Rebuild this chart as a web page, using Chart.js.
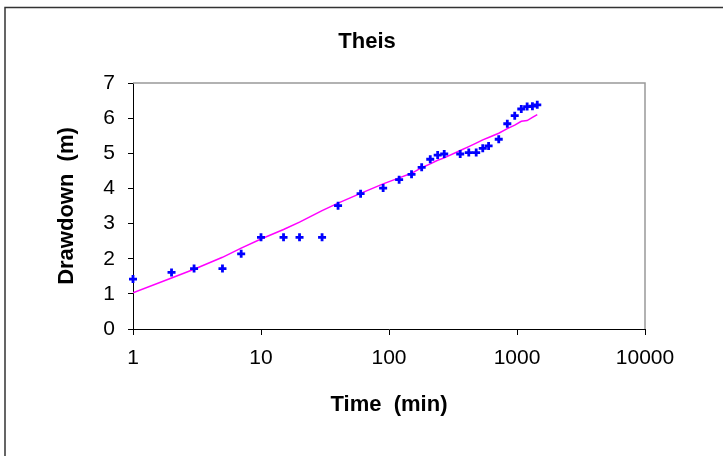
<!DOCTYPE html>
<html>
<head>
<meta charset="utf-8">
<script src="https://cdn.jsdelivr.net/npm/chart.js@4.4.1/dist/chart.umd.min.js"></script>
<style>
  html, body { margin: 0; padding: 0; background: #fff; }
  #wrap { width: 723px; height: 456px; }
</style>
</head>
<body>
<div id="wrap"><canvas id="theisChart" width="723" height="456"></canvas></div>
<script>
// Pumping test: elapsed time (min) and measured drawdown (m)
const times = [1, 2, 3, 5, 7, 10, 15, 20, 30, 40, 60, 90, 120, 150, 180, 210, 240, 270,
               360, 420, 480, 540, 600, 720, 840, 960, 1080, 1200, 1320, 1440];
const observed = [1.42, 1.61, 1.72, 1.72, 2.14, 2.61, 2.61, 2.61, 2.61, 3.51, 3.85, 4.01,
                  4.25, 4.40, 4.60, 4.83, 4.95, 4.98, 4.98, 5.02, 5.02, 5.14, 5.21, 5.40,
                  5.84, 6.07, 6.26, 6.33, 6.34, 6.38];
// Theis type curve fitted at the same times
const theisFit = [1.03, 1.45, 1.70, 2.04, 2.30, 2.56, 2.83, 3.04, 3.37, 3.58, 3.86, 4.13,
                  4.30, 4.43, 4.59, 4.70, 4.80, 4.87, 5.08, 5.19, 5.29, 5.38, 5.45, 5.57,
                  5.70, 5.80, 5.91, 5.93, 6.02, 6.10];
const xTicks = [1, 10, 100, 1000, 10000];
const xTickLabels = ['1', '10', '100', '1000', '10000'];

const FONT = "'Liberation Sans', Arial, sans-serif";

// white background, outer frame and the grey top/right edges of the plot
const framePlugin = {
    id: 'frame',
    beforeDraw(chart) {
        const ctx = chart.ctx;
        ctx.save();
        ctx.fillStyle = '#fff';
        ctx.fillRect(0, 0, chart.width, chart.height);
        ctx.strokeStyle = '#333';
        ctx.lineWidth = 1.5;
        ctx.strokeRect(5, 7.5, chart.width + 20, chart.height + 20);
        ctx.restore();
    },
    beforeDatasetsDraw(chart) {
        const a = chart.chartArea;
        const ctx = chart.ctx;
        ctx.save();
        ctx.strokeStyle = '#999';
        ctx.lineWidth = 1.5;
        ctx.beginPath();
        ctx.moveTo(a.left, a.top);
        ctx.lineTo(a.right, a.top);
        ctx.lineTo(a.right, a.bottom);
        ctx.stroke();
        ctx.restore();
    }
};

const chartData = {
    datasets: [{
        label: 'Observed',
        type: 'scatter',
        data: times.map((t, i) => ({ x: t, y: observed[i] })),
        pointStyle: 'cross',
        pointRadius: 4,
        pointBorderWidth: 2.8,
        borderColor: '#0000ff',
        backgroundColor: '#0000ff',
        clip: false
    }, {
        label: 'Theis',
        type: 'line',
        data: times.map((t, i) => ({ x: t, y: theisFit[i] })),
        borderColor: '#ff00ff',
        borderWidth: 1.5,
        pointRadius: 0,
        tension: 0,
        fill: false
    }]
};

const chartOptions = {
    responsive: false,
    animation: false,
    layout: { padding: { left: 11, right: 0, top: 0, bottom: 0 } },
    plugins: {
        legend: { display: false },
        tooltip: { enabled: false },
        title: {
            display: true,
            text: 'Theis',
            color: '#000',
            font: { family: FONT, size: 22, weight: 'bold' },
            padding: { top: 29, bottom: 27.6 }
        }
    },
    scales: {
        x: {
            type: 'logarithmic',
            min: 1,
            max: 10000,
            afterBuildTicks: s => { s.ticks = xTicks.map(v => ({ value: v })); },
            afterFit: s => { s.height = 127; },
            ticks: {
                color: '#000',
                font: { family: FONT, size: 21 },
                padding: 11,
                maxRotation: 0,
                autoSkip: false,
                callback: v => xTickLabels[xTicks.indexOf(v)] ?? ''
            },
            grid: { drawOnChartArea: false, drawTicks: true, tickLength: 6, color: '#000' },
            border: { display: true, color: '#000', width: 1 },
            title: {
                display: true,
                text: 'Time  (min)',
                color: '#000',
                font: { family: FONT, size: 22, weight: 'bold' },
                padding: { top: 0, bottom: 38 }
            }
        },
        y: {
            type: 'linear',
            min: 0,
            max: 7,
            afterFit: s => { s.width = 122; },
            ticks: {
                stepSize: 1,
                color: '#000',
                font: { family: FONT, size: 21 },
                padding: 13
            },
            grid: { drawOnChartArea: false, drawTicks: true, tickLength: 5, color: '#000' },
            border: { display: true, color: '#000', width: 1 },
            title: {
                display: true,
                text: 'Drawdown  (m)',
                color: '#000',
                font: { family: FONT, size: 22, weight: 'bold' },
                padding: { top: 42.8, bottom: 0 }
            }
        },
        // blank strip on the right so the title centres on the whole frame
        y2: {
            type: 'linear',
            position: 'right',
            afterFit: s => { s.width = 78; },
            ticks: { display: false },
            grid: { display: false },
            border: { display: false }
        }
    }
};

document.addEventListener('DOMContentLoaded', function () {
    new Chart(document.getElementById('theisChart'), {
        data: chartData,
        options: chartOptions,
        plugins: [framePlugin]
    });
});
</script>
</body>
</html>
